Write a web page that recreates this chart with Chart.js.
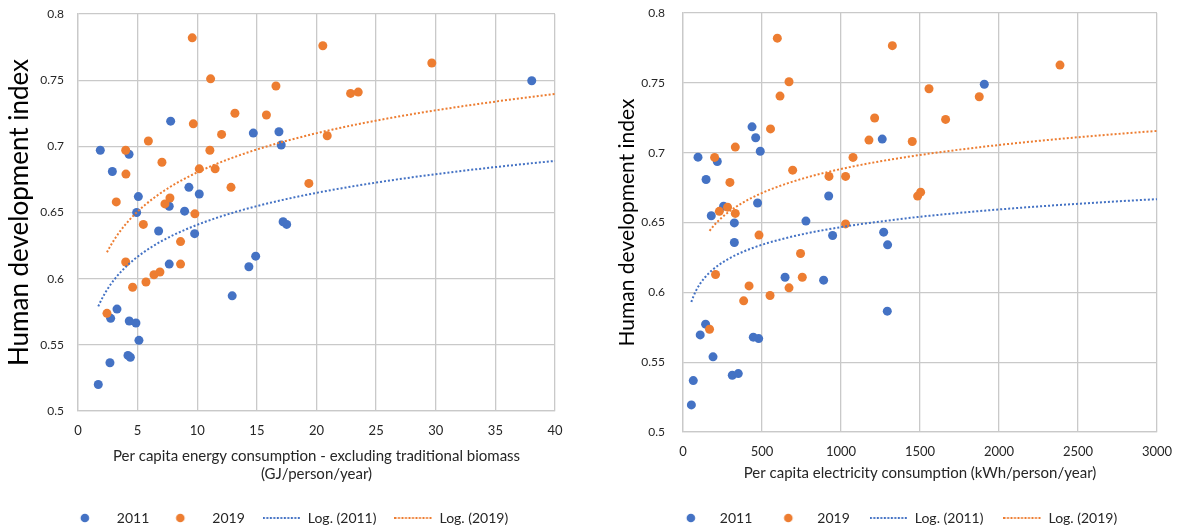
<!DOCTYPE html>
<html>
<head>
<meta charset="utf-8">
<script src="https://cdn.jsdelivr.net/npm/chart.js@4.4.0/dist/chart.umd.min.js"></script>
<style>
  html, body { margin: 0; padding: 0; background: #fff; overflow: hidden; width: 1177px; height: 529px; }
  canvas { position: absolute; top: 0; }
</style>
</head>
<body>
<canvas id="energyChart" width="619" height="535" style="left:0px"></canvas>
<canvas id="elecChart" width="625" height="535" style="left:605px"></canvas>
<script>
// values
const energy2011X = [1.7, 2.68, 4.19, 4.39, 5.11, 4.86, 4.3, 2.74, 3.27, 12.93, 14.33, 7.65, 14.9, 9.78, 6.76, 17.5, 17.2, 4.92, 8.94, 7.65, 5.06, 10.17, 9.3, 2.88, 4.28, 1.87, 17.04, 14.7, 16.85, 7.77, 38.05];
const energy2011Y = [0.520, 0.5365, 0.542, 0.5406, 0.5534, 0.5665, 0.568, 0.570, 0.577, 0.587, 0.609, 0.611, 0.617, 0.634, 0.636, 0.641, 0.643, 0.650, 0.651, 0.6547, 0.662, 0.664, 0.669, 0.681, 0.694, 0.697, 0.701, 0.710, 0.711, 0.719, 0.7496];
const energy2019X = [2.43, 4.58, 5.7, 6.37, 6.87, 8.6, 4.0, 8.6, 5.48, 9.8, 7.29, 3.21, 7.71, 12.83, 19.36, 4.02, 10.17, 11.5, 7.04, 4.0, 11.06, 5.9, 20.9, 12.04, 9.67, 15.8, 13.16, 22.86, 23.5, 16.6, 11.12, 29.67, 20.53, 9.58];
const energy2019Y = [0.5738, 0.5935, 0.5975, 0.603, 0.605, 0.611, 0.6126, 0.628, 0.641, 0.649, 0.6565, 0.658, 0.661, 0.669, 0.672, 0.679, 0.683, 0.683, 0.688, 0.697, 0.697, 0.704, 0.708, 0.709, 0.717, 0.7237, 0.725, 0.740, 0.741, 0.7456, 0.751, 0.763, 0.776, 0.782];

const elec2011X = [53, 65, 312, 350, 190, 479, 445, 109, 143, 1293, 890, 646, 1295, 325, 947, 1270, 325, 778, 179, 257, 472, 922, 146, 217, 95, 489, 1261, 460, 437, 1907];
const elec2011Y = [0.5194, 0.5368, 0.5406, 0.5418, 0.5538, 0.5669, 0.5679, 0.5695, 0.5772, 0.5865, 0.6087, 0.6108, 0.634, 0.6357, 0.6407, 0.6431, 0.6497, 0.651, 0.6548, 0.6617, 0.664, 0.669, 0.6808, 0.6937, 0.6968, 0.701, 0.7097, 0.7107, 0.7185, 0.749];
const elec2019X = [168, 384, 551, 671, 418, 755, 206, 744, 481, 1029, 331, 230, 282, 1485, 1504, 297, 924, 1029, 694, 200, 1076, 331, 1451, 1177, 554, 1662, 1213, 614, 1875, 1557, 671, 2386, 1325, 597];
const elec2019Y = [0.5736, 0.5939, 0.5977, 0.6032, 0.6046, 0.6108, 0.6128, 0.6278, 0.641, 0.649, 0.6565, 0.658, 0.661, 0.6689, 0.6717, 0.6787, 0.683, 0.683, 0.6875, 0.6966, 0.6966, 0.704, 0.708, 0.709, 0.717, 0.7238, 0.7248, 0.7405, 0.740, 0.7458, 0.7508, 0.7627, 0.7766, 0.782];

// log trendlines y = a + b*ln(x): [a, b]
const trendEnergy2011 = [0.5606, 0.0348];
const trendEnergy2019 = [0.582, 0.0427];
const trendElec2011 = [0.5207, 0.01824];
const trendElec2019 = [0.517, 0.0248];

const seriesNames = ['2011', '2019', 'Log. (2011)', 'Log. (2019)'];
const yTicks = [0.5, 0.55, 0.6, 0.65, 0.7, 0.75, 0.8];

const BLUE = '#4472C4';
const ORANGE = '#ED7D31';
const GRID = '#c9c9c9';
const TEXT = '#262626';
const FONT = 'Lato, "Open Sans", sans-serif';

function trendPoints(coef, x0, x1) {
  let pts = [];
  let steps = 80;
  for (let i = 0; i <= steps; i++) {
    let x = x0 * Math.pow(x1 / x0, i / steps);
    pts.push({x: x, y: coef[0] + coef[1] * Math.log(x)});
  }
  return pts;
}

function toPoints(xs, ys) {
  return xs.map((x, i) => ({x: x, y: ys[i]}));
}

// little pictures for the legend keys
function dotKey(color, cx) {
  let c = document.createElement('canvas');
  c.width = 38; c.height = 10;
  let g = c.getContext('2d');
  g.fillStyle = color;
  g.beginPath();
  g.arc(cx, 5, 4.3, 0, Math.PI * 2);
  g.fill();
  return c;
}
function lineKey(color) {
  let c = document.createElement('canvas');
  c.width = 38; c.height = 4;
  let g = c.getContext('2d');
  g.fillStyle = color;
  for (let x = 0; x < 38; x += 3.5) g.fillRect(x, 1, 2, 2);
  return c;
}

function buildChart(id, cfg) {
  let keys = [dotKey(BLUE, cfg.dotX), dotKey(ORANGE, cfg.dotX), lineKey(BLUE), lineKey(ORANGE)];

  new Chart(document.getElementById(id), {
    type: 'scatter',
    data: {
      datasets: [
        {label: seriesNames[0], data: toPoints(cfg.x11, cfg.y11), backgroundColor: BLUE, borderWidth: 0, pointRadius: 4.5, order: 3},
        {label: seriesNames[1], data: toPoints(cfg.x19, cfg.y19), backgroundColor: ORANGE, borderWidth: 0, pointRadius: 4.5, order: 2},
        {label: seriesNames[2], data: trendPoints(cfg.t11, Math.min(...cfg.x11), cfg.xMax), showLine: true,
         borderColor: BLUE, borderWidth: 2, borderDash: [2, 2], pointRadius: 0, order: 1},
        {label: seriesNames[3], data: trendPoints(cfg.t19, Math.min(...cfg.x19), cfg.xMax), showLine: true,
         borderColor: ORANGE, borderWidth: 2, borderDash: [2, 2], pointRadius: 0, order: 0}
      ]
    },
    options: {
      responsive: false,
      animation: false,
      layout: {padding: {left: 0, right: cfg.padRight, top: cfg.padTop, bottom: 0}},
      plugins: {
        tooltip: {enabled: false},
        legend: {
          position: 'bottom',
          labels: {
            usePointStyle: true,
            pointStyleWidth: 38,
            padding: cfg.legendPad,
            color: TEXT,
            font: {family: FONT, size: 14},
            generateLabels: (chart) => seriesNames.map((name, i) => ({
              text: name, pointStyle: keys[i], datasetIndex: i, hidden: false,
              fillStyle: 'rgba(0,0,0,0)', strokeStyle: 'rgba(0,0,0,0)', lineWidth: 0, fontColor: TEXT
            }))
          }
        }
      },
      scales: {
        x: {
          type: 'linear', min: 0, max: cfg.xMax,
          ticks: {stepSize: cfg.xStep, maxRotation: 0, padding: 12, color: TEXT,
                  font: {family: FONT, size: 13}, callback: (v) => String(v)},
          grid: {color: GRID, lineWidth: 1.3, drawTicks: false},
          border: {color: GRID, width: 1.3},
          title: {display: true, text: cfg.xTitle, color: TEXT, font: {family: FONT, size: 15},
                  padding: {top: 0, bottom: cfg.xTitlePad}},
          afterFit: (s) => { s.height = cfg.xAxisHeight; }
        },
        y: {
          min: 0.5, max: 0.8,
          afterBuildTicks: (s) => { s.ticks = yTicks.map(v => ({value: v})); },
          ticks: {padding: cfg.yTickPad, color: TEXT, font: {family: FONT, size: cfg.yTickSize},
                  callback: (v) => String(+v.toFixed(2))},
          grid: {color: GRID, lineWidth: 1.3, drawTicks: false},
          border: {color: GRID, width: 1.3},
          title: {display: true, text: 'Human development index', color: '#000',
                  font: {family: FONT, size: cfg.yTitleSize}, padding: {top: cfg.yTitlePad, bottom: 0}},
          afterFit: (s) => { s.width = cfg.yAxisWidth; s.paddingTop = 0; s.paddingBottom = 0; }
        },
        // empty strip right of the plot, only there so the legend sits where the original has it
        gap: {
          position: 'right',
          grid: {display: false, drawTicks: false},
          border: {display: false},
          ticks: {display: false},
          afterFit: (s) => { s.width = cfg.rightGap; s.paddingTop = 0; s.paddingBottom = 0; }
        }
      }
    }
  });
}

buildChart('energyChart', {
  x11: energy2011X, y11: energy2011Y, x19: energy2019X, y19: energy2019Y,
  t11: trendEnergy2011, t19: trendEnergy2019,
  xMax: 40, xStep: 5,
  xTitle: ['Per capita energy consumption - excluding traditional biomass', '(GJ/person/year)'],
  xAxisHeight: 82, xTitlePad: 10, legendPad: 18,
  yAxisWidth: 78, yTickPad: 14, yTickSize: 12, yTitleSize: 26, yTitlePad: 4.4,
  padRight: 39, rightGap: 25, padTop: 14, dotX: 13
});

buildChart('elecChart', {
  x11: elec2011X, y11: elec2011Y, x19: elec2019X, y19: elec2019Y,
  t11: trendElec2011, t19: trendElec2019,
  xMax: 3000, xStep: 500,
  xTitle: 'Per capita electricity consumption (kWh/person/year)',
  xAxisHeight: 59, xTitlePad: 9, legendPad: 20,
  yAxisWidth: 78, yTickPad: 18, yTickSize: 12, yTitleSize: 21, yTitlePad: 9.4,
  padRight: 43, rightGap: 30, padTop: 13, dotX: 16
});
</script>
</body>
</html>
